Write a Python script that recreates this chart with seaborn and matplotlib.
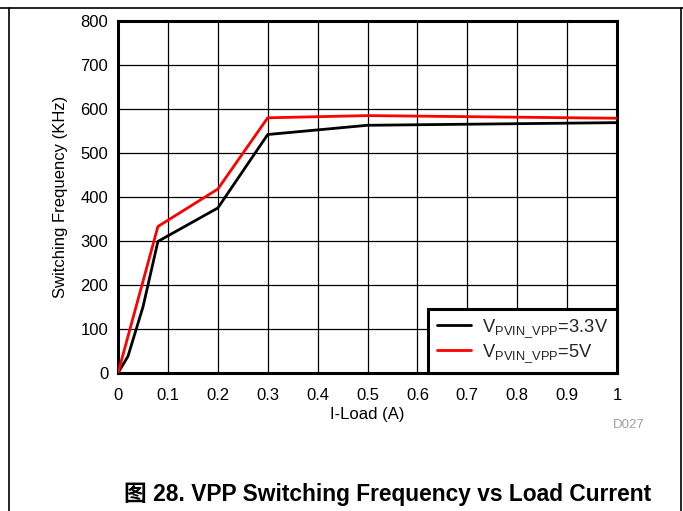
import matplotlib
matplotlib.use("Agg")
import matplotlib.pyplot as plt
import seaborn as sns
import pandas as pd
from matplotlib.lines import Line2D

# Data
load_33 = [0.0, 0.02, 0.05, 0.08, 0.2, 0.3, 0.5, 1.0]
freq_33 = [0, 38, 150, 299, 375, 542, 563, 569]
load_5 = [0.0, 0.08, 0.2, 0.3, 0.5, 1.0]
freq_5 = [0, 333, 418, 580, 585, 579]
series_labels = [r"V$_{\mathrm{PVIN\_VPP}}$=3.3V", r"V$_{\mathrm{PVIN\_VPP}}$=5V"]
x_ticks = [0, 0.1, 0.2, 0.3, 0.4, 0.5, 0.6, 0.7, 0.8, 0.9, 1]
x_tick_labels = ["0", "0.1", "0.2", "0.3", "0.4", "0.5", "0.6", "0.7", "0.8", "0.9", "1"]
y_ticks = [0, 100, 200, 300, 400, 500, 600, 700, 800]

df = pd.concat([
    pd.DataFrame({"load": load_33, "freq": freq_33, "series": series_labels[0]}),
    pd.DataFrame({"load": load_5, "freq": freq_5, "series": series_labels[1]}),
])

sns.set_theme(style="white")
plt.rcParams["font.family"] = ["Liberation Sans", "Noto Sans CJK SC", "DejaVu Sans"]
plt.rcParams["mathtext.fontset"] = "custom"
plt.rcParams["mathtext.rm"] = "Liberation Sans"
plt.rcParams["mathtext.it"] = "Liberation Sans:italic"

fig = plt.figure(figsize=(6.83, 5.11), dpi=100)
ax = fig.add_axes([118/683, 1-373/511, (617-118)/683, (373-21)/511])

sns.lineplot(data=df, x="load", y="freq", hue="series", sort=False,
             palette=["black", "#ff0000"], linewidth=2, ax=ax, legend=False, zorder=3)

ax.set_xlim(0, 1)
ax.set_ylim(0, 800)
ax.set_xticks(x_ticks)
ax.set_xticklabels(x_tick_labels)
ax.set_yticks(y_ticks)
ax.grid(True, color="black", linewidth=0.9)
ax.tick_params(length=0, labelsize=12, colors="black")
ax.tick_params(axis="x", pad=11)
ax.tick_params(axis="y", pad=7)
for s in ax.spines.values():
    s.set_linewidth(2.2)
    s.set_color("black")
ax.set_xlabel("I-Load (A)", fontsize=12, color="black", labelpad=3)
ax.set_ylabel("Switching Frequency (KHz)", fontsize=12, color="black", labelpad=9)

handles = [Line2D([], [], color="black", lw=2), Line2D([], [], color="#ff0000", lw=2)]
leg = ax.legend(handles, series_labels, loc="lower right", bbox_to_anchor=(1.0, 0.0),
                borderaxespad=0, fancybox=False, framealpha=1, fontsize=13.2,
                handlelength=1.9, labelspacing=0.15, borderpad=0.45, handletextpad=0.6)
leg.get_frame().set_edgecolor("black")
leg.get_frame().set_linewidth(2.2)

fig.text(645/683, 1-425/511, "D027", fontsize=9.5, color="#a0a0a0", ha="right", va="center")
fig.text(387.5/683, 1-494/511, "图 28. VPP Switching Frequency vs Load Current",
         fontsize=16.4, fontweight="bold", ha="center", va="center", color="black")

# page frame lines
fig.add_artist(Line2D([0, 1], [1-8/511, 1-8/511], color="black", lw=1.2, transform=fig.transFigure))
fig.add_artist(Line2D([9/683, 9/683], [0, 1-8/511], color="black", lw=1.2, transform=fig.transFigure))
fig.add_artist(Line2D([681/683, 681/683], [0, 1-8/511], color="black", lw=1.2, transform=fig.transFigure))

fig.savefig("out.png", dpi=100)
